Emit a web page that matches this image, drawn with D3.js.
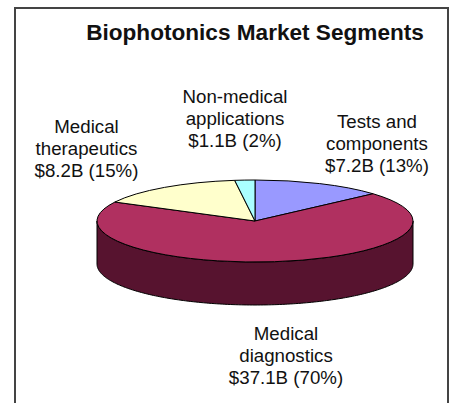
<!DOCTYPE html>
<html>
<head>
<meta charset="utf-8">
<script src="https://cdn.jsdelivr.net/npm/d3@7"></script>
<style>
  html, body { margin: 0; padding: 0; background: #fff; }
  svg { display: block; }
  text { font-family: "Liberation Sans", Arial, sans-serif; fill: #111; }
</style>
</head>
<body>
<script>
// pie slices, clockwise from 12 o'clock
segments = ["Tests and components", "Medical diagnostics", "Medical therapeutics", "Non-medical applications"]
billions = [7.2, 37.1, 8.2, 1.1]
colors = ["#9999ff", "#b03060", "#ffffcc", "#aaffff"]
labels = [
  ["Tests and", "components", "$7.2B (13%)"],
  ["Medical", "diagnostics", "$37.1B (70%)"],
  ["Medical", "therapeutics", "$8.2B (15%)"],
  ["Non-medical", "applications", "$1.1B (2%)"]
]
title = "Biophotonics Market Segments"

width = 454
height = 403
cx = 255
cy = 221
rx = 158
ry = 41
depth = 43
wallColor = "#57132f"

svg = d3.select("body").append("svg")
  .attr("width", width)
  .attr("height", height)

// frame, the bottom edge is cut off by the picture
svg.append("path")
  .attr("d", d3.line()([[15, height], [15, 8], [448, 8], [448, height]]))
  .attr("fill", "none")
  .attr("stroke", "#444")
  .attr("stroke-width", 2)

svg.append("text")
  .attr("x", 255)
  .attr("y", 40)
  .attr("text-anchor", "middle")
  .attr("font-size", 22.6)
  .attr("font-weight", "bold")
  .text(title)

// side wall: front half of the ellipse, pushed down by depth
wall = d3.area()
  .x(a => cx + rx * Math.sin(a))
  .y0(a => cy - ry * Math.cos(a))
  .y1(a => cy - ry * Math.cos(a) + depth)

svg.append("path")
  .attr("d", wall(d3.range(90, 270.5, 1).map(d => d * Math.PI / 180)))
  .attr("fill", wallColor)
  .attr("stroke", "#000")
  .attr("stroke-width", 1)

// top face: a flat pie squashed into an ellipse
pie = d3.pie().sort(null)
arc = d3.arc().innerRadius(0).outerRadius(rx)

svg.append("g")
  .attr("transform", `translate(${cx},${cy}) scale(1,${ry / rx})`)
  .selectAll("path")
  .data(pie(billions))
  .join("path")
    .attr("d", arc)
    .attr("fill", (d, i) => colors[i])
    .attr("stroke", "#000")
    .attr("stroke-width", 1)
    .attr("vector-effect", "non-scaling-stroke")

// label centre x and first baseline
labelPos = [[377, 128], [286, 340], [86.5, 133], [235, 103]]

labelText = svg.append("g")
  .selectAll("text")
  .data(labels)
  .join("text")
    .attr("text-anchor", "middle")
    .attr("font-size", 18.7)

labelText.selectAll("tspan")
  .data((d, i) => d.map(line => ({line, i})))
  .join("tspan")
    .attr("x", d => labelPos[d.i][0])
    .attr("y", (d, j) => labelPos[d.i][1] + j * 22)
    .text(d => d.line)
</script>
</body>
</html>
